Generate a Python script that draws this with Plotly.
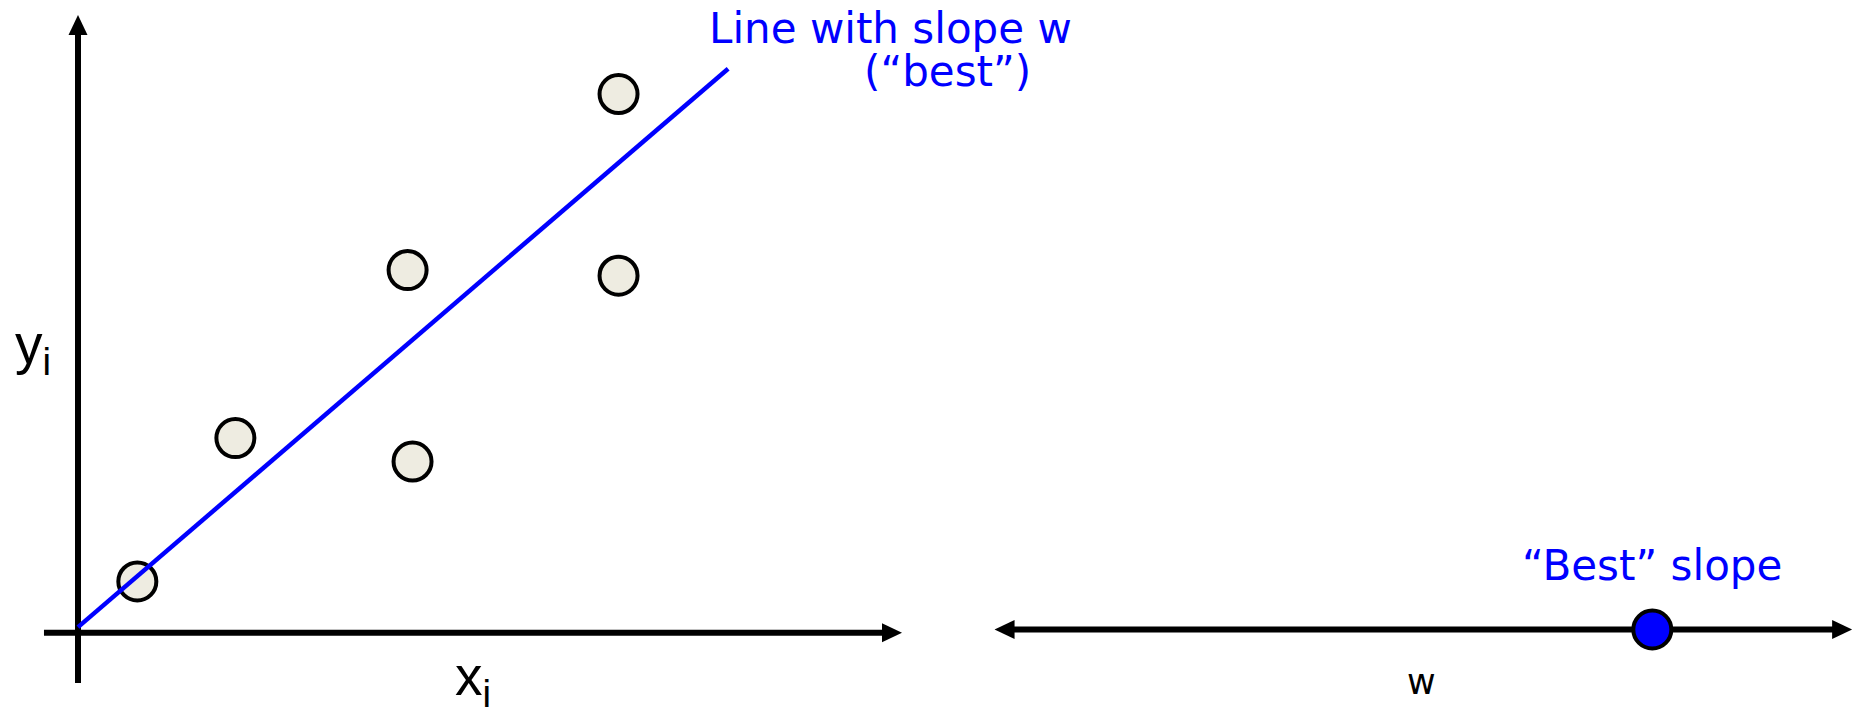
import plotly.graph_objects as go

# ---------------- data ----------------
# Left panel: observations (x_i, y_i)
x_vals = [0.72, 1.91, 4.00, 4.06, 6.56, 6.56]
y_vals = [0.83, 3.15, 5.87, 2.77, 8.72, 5.78]

# Line with slope w ("best")
line_x = [0.0, 7.89]
line_y = [0.09, 9.13]

# Right panel: the "best" slope on the w axis
best_w = [7.67]
best_w_level = [0.0]

# Axis extents: line bodies and arrow tips
x_axis_body = [-0.413, 9.9]
x_axis_tip = 10.0
y_axis_body = [-0.814, 9.86]
y_axis_tip = 10.0
w_axis_body = [0.1, 9.9]
w_axis_tips = [0.0, 10.0]

# Text
line_label_1 = "Line with slope w"
line_label_2 = "(\u201cbest\u201d)"
best_label = "\u201cBest\u201d slope"
w_label = "w"
x_label = "x<sub>i</sub>"
y_label = "y<sub>i</sub>"

BLUE = "#0000FF"
FILL = "#EEECE1"
AXW = 6
HEAD_LEN_PX = 20
HEAD_HALF_PX = 9.5

# axis ranges
X_RANGE = [-0.94660, 21.5413]
Y_RANGE = [-1.33236, 10.24284]
X2_RANGE = [-11.5967, 10.01]
Y2_RANGE = [-0.855, 6.295]
W, H = 1853, 715

px_x = W / (X_RANGE[1] - X_RANGE[0])
px_y = H / (Y_RANGE[1] - Y_RANGE[0])
px_x2 = W / (X2_RANGE[1] - X2_RANGE[0])
px_y2 = H / (Y2_RANGE[1] - Y2_RANGE[0])

fig = go.Figure()

# left axes bodies
fig.add_trace(go.Scatter(
    x=x_axis_body, y=[0, 0], mode="lines", xaxis="x", yaxis="y",
    line=dict(color="black", width=AXW), hoverinfo="skip", showlegend=False))
fig.add_trace(go.Scatter(
    x=[0, 0], y=y_axis_body, mode="lines", xaxis="x", yaxis="y",
    line=dict(color="black", width=AXW), hoverinfo="skip", showlegend=False))

# points
fig.add_trace(go.Scatter(
    x=x_vals, y=y_vals, mode="markers", xaxis="x", yaxis="y",
    marker=dict(size=38, color=FILL, line=dict(color="black", width=4)),
    cliponaxis=False, hoverinfo="skip", showlegend=False))

# best line
fig.add_trace(go.Scatter(
    x=line_x, y=line_y, mode="lines", xaxis="x", yaxis="y",
    line=dict(color=BLUE, width=4.5), hoverinfo="skip", showlegend=False))

# w axis body
fig.add_trace(go.Scatter(
    x=w_axis_body, y=[0, 0], mode="lines", xaxis="x2", yaxis="y2",
    line=dict(color="black", width=AXW), hoverinfo="skip", showlegend=False))

# best slope dot
fig.add_trace(go.Scatter(
    x=best_w, y=best_w_level, mode="markers", xaxis="x2", yaxis="y2",
    marker=dict(size=38, color=BLUE, line=dict(color="black", width=4)),
    cliponaxis=False, hoverinfo="skip", showlegend=False))


def head_h(tip_x, y0, direction, sx, sy, xref, yref):
    """Triangle arrow head pointing along the horizontal axis."""
    bx = tip_x - direction * HEAD_LEN_PX / sx
    hy = HEAD_HALF_PX / sy
    path = f"M {tip_x},{y0} L {bx},{y0 + hy} L {bx},{y0 - hy} Z"
    return dict(type="path", path=path, xref=xref, yref=yref,
                fillcolor="black", line=dict(width=0), layer="above")


def head_v(x0, tip_y, sx, sy, xref, yref):
    """Triangle arrow head pointing up along the vertical axis."""
    by = tip_y - HEAD_LEN_PX / sy
    hx = HEAD_HALF_PX / sx
    path = f"M {x0},{tip_y} L {x0 + hx},{by} L {x0 - hx},{by} Z"
    return dict(type="path", path=path, xref=xref, yref=yref,
                fillcolor="black", line=dict(width=0), layer="above")


shapes = [
    head_h(x_axis_tip, 0, 1, px_x, px_y, "x", "y"),
    head_v(0, y_axis_tip, px_x, px_y, "x", "y"),
    head_h(w_axis_tips[1], 0, 1, px_x2, px_y2, "x2", "y2"),
    head_h(w_axis_tips[0], 0, -1, px_x2, px_y2, "x2", "y2"),
]

ann = []
ann.append(dict(x=9.86, y=9.777, xref="x", yref="y", text=line_label_1, showarrow=False,
                xanchor="center", yanchor="middle", borderpad=0,
                font=dict(family="DejaVu Sans", size=42, color=BLUE)))
ann.append(dict(x=10.55, y=9.08, xref="x", yref="y", text=line_label_2, showarrow=False,
                xanchor="center", yanchor="middle", borderpad=0,
                font=dict(family="DejaVu Sans", size=42, color=BLUE)))
ann.append(dict(x=7.67, y=0.637, xref="x2", yref="y2", text=best_label, showarrow=False,
                xanchor="center", yanchor="middle",
                font=dict(family="DejaVu Sans", size=42, color=BLUE)))
ann.append(dict(x=4.98, y=-0.52, xref="x2", yref="y2", text=w_label, showarrow=False,
                xanchor="center", yanchor="middle",
                font=dict(family="DejaVu Sans", size=35, color="black")))
ann.append(dict(x=-0.789, y=4.617, xref="x", yref="y", text=y_label, showarrow=False,
                xanchor="left", yanchor="middle",
                font=dict(family="Liberation Sans", size=55, color="black")))
ann.append(dict(x=4.55, y=-0.769, xref="x", yref="y", text=x_label, showarrow=False,
                xanchor="left", yanchor="middle",
                font=dict(family="Liberation Sans", size=55, color="black")))

hidden = dict(visible=False, fixedrange=True, showgrid=False, zeroline=False)

fig.update_layout(
    width=W, height=H, autosize=False,
    margin=dict(l=0, r=0, t=0, b=0, pad=0),
    paper_bgcolor="white", plot_bgcolor="white",
    xaxis=dict(range=X_RANGE, domain=[0, 1], **hidden),
    yaxis=dict(range=Y_RANGE, domain=[0, 1], **hidden),
    xaxis2=dict(range=X2_RANGE, domain=[0, 1], overlaying="x", anchor="y2", **hidden),
    yaxis2=dict(range=Y2_RANGE, domain=[0, 1], overlaying="y", anchor="x2", **hidden),
    shapes=shapes,
    annotations=ann,
    showlegend=False,
)

fig.write_html(
    "out.html",
    config={"displayModeBar": False, "staticPlot": True},
    post_script="document.body.style.margin='0';document.body.style.overflow='hidden';",
)
